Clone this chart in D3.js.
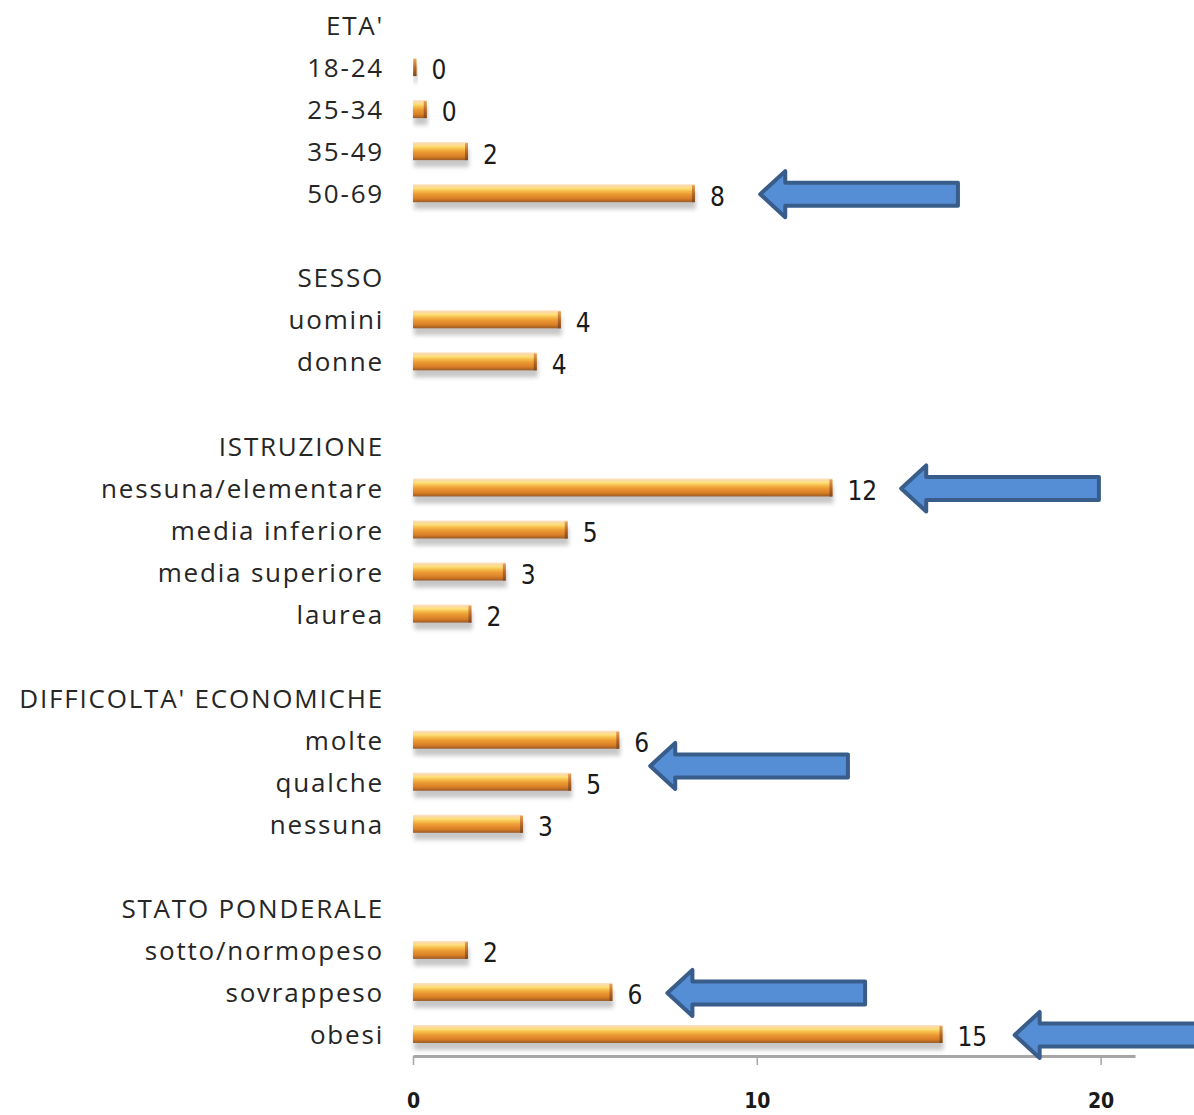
<!DOCTYPE html>
<html>
<head>
<meta charset="utf-8">
<script src="https://cdn.jsdelivr.net/npm/d3@7"></script>
<style>
  body { margin: 0; background: #fff; }
</style>
</head>
<body>
<div id="chart"></div>
<script>
const width = 1194;
const height = 1115;

// rows of the chart, group headers and blank spacer rows included
const categories = ["ETA'", "18-24", "25-34", "35-49", "50-69", "",
    "SESSO", "uomini", "donne", "",
    "ISTRUZIONE", "nessuna/elementare", "media inferiore", "media superiore", "laurea", "",
    "DIFFICOLTA' ECONOMICHE", "molte", "qualche", "nessuna", "",
    "STATO PONDERALE", "sotto/normopeso", "sovrappeso", "obesi"];
const values = [null, 0.1, 0.4, 1.6, 8.2, null,
    null, 4.3, 3.6, null,
    null, 12.2, 4.5, 2.7, 1.7, null,
    null, 6.0, 4.6, 3.2, null,
    null, 1.6, 5.8, 15.4];
const xTicks = [0, 10, 20];
// highlight arrows: row index (fractional = between rows) and tip value
const arrowRows = [4, 11, 17.6, 23, 24];
const arrowTips = [10.1, 14.2, 6.9, 7.4, 17.5];
const arrowLength = 5.75;

const rows = categories.map((c, i) => ({ i: i, name: c, value: values[i] }));

const svg = d3.select("#chart")
    .append("svg")
    .attr("width", width)
    .attr("height", height);

const x = d3.scaleLinear().domain([0, 21]).range([413, 1135]);
const y = d3.scaleBand().domain(d3.range(categories.length)).range([5, 1056]);
const rowY = i => y(0) + (i + 0.5) * y.step();

const defs = svg.append("defs");
const grad = defs.append("linearGradient")
    .attr("id", "barGrad")
    .attr("x1", 0).attr("y1", 0).attr("x2", 0).attr("y2", 1);
[["0%", "#fde2c6"], ["12%", "#fbd9a0"], ["22%", "#fde27c"], ["38%", "#f6bd4a"],
 ["55%", "#ec9a34"], ["80%", "#d97e26"], ["100%", "#9b5a25"]]
    .forEach(([o, c]) => grad.append("stop").attr("offset", o).attr("stop-color", c));
const cap = defs.append("linearGradient")
    .attr("id", "capGrad")
    .attr("x1", 0).attr("y1", 0).attr("x2", 0).attr("y2", 1);
[["0%", "#e9a05a"], ["50%", "#b8682a"], ["100%", "#7f4a1e"]]
    .forEach(([o, c]) => cap.append("stop").attr("offset", o).attr("stop-color", c));
defs.append("filter").attr("id", "blur")
    .attr("x", "-10%").attr("y", "-50%").attr("width", "120%").attr("height", "200%")
    .append("feGaussianBlur").attr("stdDeviation", 2.2);

const barH = 18;
const bars = rows.filter(d => d.value != null);

// shadows
svg.append("g").selectAll("rect")
    .data(bars)
    .join("rect")
    .attr("x", x(0) + 1)
    .attr("y", d => rowY(d.i) - barH / 2 + 6)
    .attr("width", d => x(d.value) - x(0))
    .attr("height", barH)
    .attr("fill", "#9a9a9a")
    .attr("opacity", 0.55)
    .attr("filter", "url(#blur)");

const barG = svg.append("g").selectAll("g")
    .data(bars)
    .join("g");
barG.append("rect")
    .attr("x", x(0))
    .attr("y", d => rowY(d.i) - barH / 2 - 1)
    .attr("width", d => x(d.value) - x(0))
    .attr("height", barH)
    .attr("fill", "url(#barGrad)");
barG.append("rect")
    .attr("x", d => Math.max(x(0), x(d.value) - 3))
    .attr("y", d => rowY(d.i) - barH / 2)
    .attr("width", d => Math.min(3, x(d.value) - x(0)))
    .attr("height", barH - 1)
    .attr("fill", "url(#capGrad)");

// value labels
svg.append("g").selectAll("text")
    .data(bars)
    .join("text")
    .attr("x", d => x(d.value) + 15)
    .attr("y", d => rowY(d.i) + 2)
    .attr("dy", "0.36em")
    .style("font-family", "'DejaVu Sans Condensed', 'Liberation Sans Narrow', sans-serif")
    .style("font-size", "26px")
    .style("fill", "#1a1a1a")
    .text(d => Math.round(d.value));

// category labels
svg.append("g").selectAll("text")
    .data(rows.filter(d => d.name !== ""))
    .join("text")
    .attr("x", 384)
    .attr("y", d => rowY(d.i))
    .attr("dy", "0.35em")
    .attr("text-anchor", "end")
    .style("font-family", "'Open Sans', sans-serif")
    .style("font-size", "26px")
    .style("letter-spacing", "1.8px")
    .style("fill", "#262626")
    .text(d => d.name);

// x axis
const xAxis = svg.append("g")
    .attr("transform", `translate(0,${y.range()[1]})`)
    .call(d3.axisBottom(x).tickValues(xTicks).tickSize(9).tickPadding(28).tickSizeOuter(0));
xAxis.select(".domain").attr("stroke", "#a6a6a6").attr("stroke-width", 3);
xAxis.selectAll(".tick line").attr("stroke", "#a6a6a6").attr("stroke-width", 1.5);
xAxis.selectAll(".tick text")
    .style("font-family", "'DejaVu Sans Condensed', sans-serif")
    .style("font-size", "21px")
    .style("font-weight", "bold")
    .style("fill", "#1a1a1a");

// arrows
const arrowPath = (tipX, cy, tailX) => {
    const hw = 23, sw = 11.5, hl = 25;
    return `M${tipX},${cy} L${tipX + hl},${cy - hw} L${tipX + hl},${cy - sw} L${tailX},${cy - sw}
            L${tailX},${cy + sw} L${tipX + hl},${cy + sw} L${tipX + hl},${cy + hw} Z`;
};
svg.append("g").selectAll("path")
    .data(arrowRows.map((r, k) => ({ r: r, tip: arrowTips[k] })))
    .join("path")
    .attr("d", d => arrowPath(x(d.tip), rowY(d.r), x(d.tip + arrowLength)))
    .attr("fill", "#558ed5")
    .attr("stroke", "#385d8a")
    .attr("stroke-width", 4)
    .attr("stroke-linejoin", "round");
</script>
</body>
</html>
